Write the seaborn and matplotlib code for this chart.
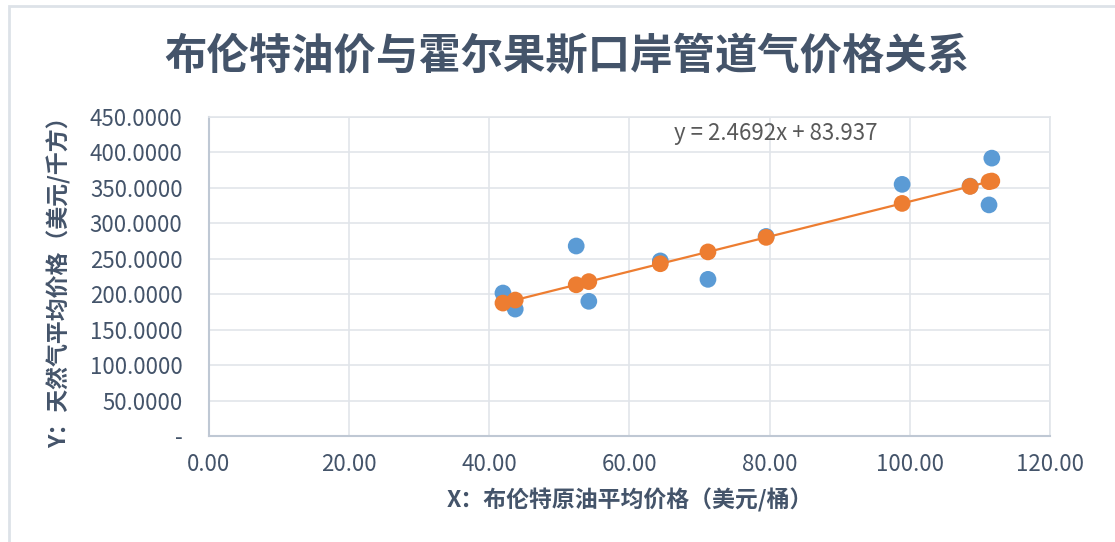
import matplotlib
matplotlib.use('Agg')
import matplotlib.pyplot as plt
import seaborn as sns
import pandas as pd
from matplotlib.ticker import FuncFormatter, MultipleLocator
from matplotlib.patches import Rectangle

# 布伦特原油价格 (X) 与 霍尔果斯口岸管道气价格 (Y)
brent = [41.95, 43.7, 52.4, 54.2, 64.4, 71.2, 79.5, 98.9, 108.6, 111.3, 111.7]
gas_actual = [201.7, 179.0, 268.0, 190.0, 247.0, 221.0, 281.5, 355.0, 352.5, 326.0, 392.0]
gas_pred = [187.5, 191.8, 213.3, 217.8, 243.0, 259.7, 280.2, 328.1, 352.1, 358.8, 359.7]

title = '布伦特油价与霍尔果斯口岸管道气价格关系'
xlabel = 'X：布伦特原油平均价格（美元/桶）'
ylabel = 'Y：天然气平均价格（美元/千方）'
eq_text = 'y = 2.4692x + 83.937'

df = pd.DataFrame({'x': brent, 'actual': gas_actual, 'pred': gas_pred})

sns.set_style('white')
plt.rcParams['font.family'] = ['Noto Sans CJK SC', 'DejaVu Sans']

txt = '#44546A'
blue = '#5B9BD5'
orange = '#ED7D31'

fig = plt.figure(figsize=(11.15, 5.42), dpi=100)
ax = fig.add_axes([0.1874, 0.1956, 0.7543, 0.5885])

# 图表外框
fig.patches.append(Rectangle((9 / 1115, -0.1), 1.2, (542 - 6) / 542 + 0.1,
                             transform=fig.transFigure, fill=False,
                             edgecolor='#DDE2E8', linewidth=2, zorder=0))

sns.scatterplot(data=df, x='x', y='actual', color=blue, s=145, edgecolor='none',
                ax=ax, zorder=3)
sns.lineplot(data=df, x='x', y='pred', color=orange, linewidth=1.6, ax=ax, zorder=4)
sns.scatterplot(data=df, x='x', y='pred', color=orange, s=145, edgecolor='none',
                ax=ax, zorder=5)

ax.set_xlim(0, 120)
ax.set_ylim(0, 450)
ax.xaxis.set_major_locator(MultipleLocator(20))
ax.yaxis.set_major_locator(MultipleLocator(50))
ax.xaxis.set_major_formatter(FuncFormatter(lambda v, p: f'{v:.2f}'))
ax.yaxis.set_major_formatter(FuncFormatter(lambda v, p: '-' if v == 0 else f'{v:.4f}'))

ax.grid(True, color='#E1E5EA', linewidth=1.2)
ax.set_axisbelow(True)
for s in ['top', 'right']:
    ax.spines[s].set_color('#E1E5EA')
    ax.spines[s].set_linewidth(1.2)
ax.spines['left'].set_color('#BFC8D4')
ax.spines['bottom'].set_color('#BFC8D4')
ax.spines['left'].set_linewidth(1.5)
ax.spines['bottom'].set_linewidth(1.5)
ax.tick_params(axis='both', length=0, labelsize=16, colors=txt)
ax.tick_params(axis='x', pad=12)
ax.tick_params(axis='y', pad=19)

ax.set_xlabel(xlabel, fontsize=16.5, fontweight='bold', color=txt, labelpad=9)
ax.set_ylabel(ylabel, fontsize=16.5, fontweight='bold', color=txt, labelpad=13)

ax.text(80.8, 427, eq_text, ha='center', va='center', fontsize=16, color='#595959')

fig.text(0.508, 0.895, title, ha='center', va='center', fontsize=30.5,
         fontweight='bold', color=txt)

plt.savefig('out.png', dpi=100)
